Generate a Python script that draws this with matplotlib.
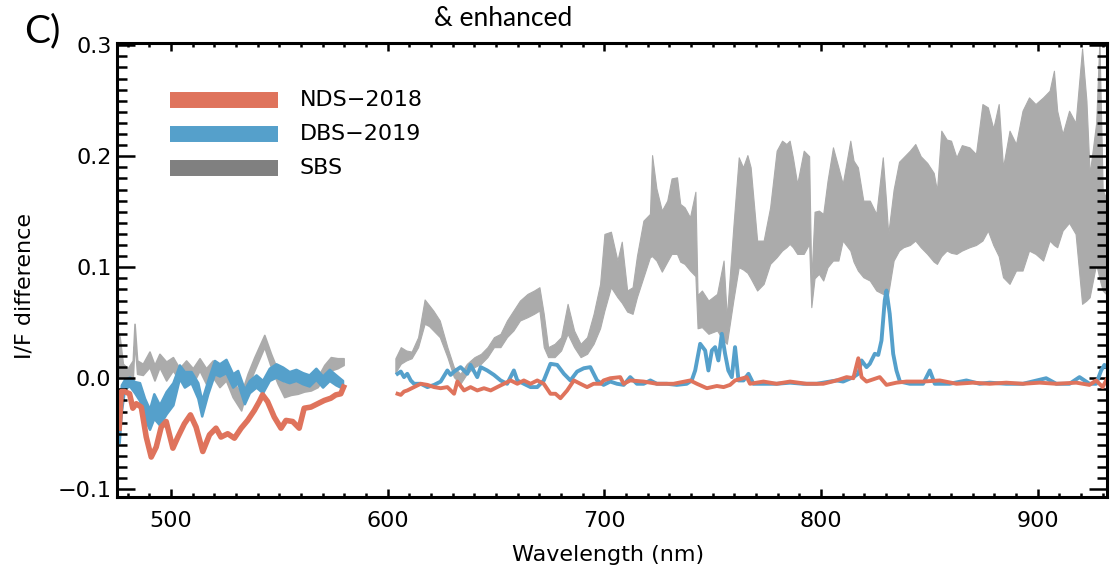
import matplotlib
matplotlib.use("Agg")
import matplotlib.pyplot as plt
from matplotlib.ticker import MultipleLocator, FuncFormatter

# I/F difference spectra, two detector segments with a gap around 590 nm
RED = "#DF735C"
BLUE = "#55A0CB"
GRAY_FILL = "#ABABAB"
GRAY_KEY = "#808080"

legend_labels = ["NDS\u22122018", "DBS\u22122019", "SBS"]

# ---- NDS-2018 ----
red_l_nm = [476, 477, 478.5, 480.8, 482.3, 483.9, 486.2, 488.5, 490.8, 493.1, 495.4,
            497.7, 500.8, 503.1, 506.1, 508.9, 511.5, 514.6, 517.7, 520.7, 523, 526.1,
            529.2, 532.3, 535.3, 538.4, 540.7, 542.2, 544.5, 547.6, 550.7, 553, 556.1,
            559.1, 561.4, 564.5, 567.6, 570.7, 573.7, 576, 578.3, 579.6]
red_l_val = [-0.045, -0.012, -0.012, -0.014, -0.027, -0.023, -0.026, -0.053, -0.071,
             -0.062, -0.044, -0.039, -0.063, -0.053, -0.041, -0.033, -0.044, -0.066,
             -0.051, -0.045, -0.053, -0.050, -0.054, -0.045, -0.038, -0.029, -0.021,
             -0.015, -0.021, -0.035, -0.045, -0.038, -0.039, -0.045, -0.027, -0.026,
             -0.023, -0.020, -0.018, -0.015, -0.014, -0.008]

red_r_nm = [604.5, 606, 607.5, 609, 612.1, 615.2, 618.3, 621.4, 624.4, 627.5, 630.6,
            632.1, 635.2, 638.2, 641.3, 644.4, 647.5, 650.5, 653.6, 656.7, 659.8, 662.8,
            665.9, 669, 672, 675.1, 677.4, 679.7, 682.8, 685.9, 688.9, 692, 695, 698.2,
            699.6, 702.7, 707.3, 708.9, 711.9, 718.1, 724.2, 731.9, 739.6, 742.7, 747.3,
            751.9, 755, 758, 760.3, 765.7, 767.2, 773.4, 779.5, 785.7, 793.3, 801, 807.2,
            811.8, 814.9, 817.2, 818.7, 821, 827.1, 830.2, 834.8, 839.4, 847.1, 854.8,
            862.5, 870.2, 877.8, 885.5, 893.2, 900.9, 908.6, 917.8, 923.9, 927, 930, 932.4]
red_r_val = [-0.014, -0.015, -0.012, -0.011, -0.008, -0.005, -0.006, -0.008, -0.009,
             -0.008, -0.014, -0.003, -0.011, -0.008, -0.011, -0.009, -0.011, -0.008,
             -0.005, -0.002, -0.005, -0.002, -0.005, -0.002, -0.005, -0.014, -0.014,
             -0.018, -0.011, -0.002, -0.005, -0.008, -0.005, -0.005, -0.002, 0.000,
             0.001, -0.005, -0.002, -0.003, -0.005, -0.005, -0.002, -0.005, -0.009,
             -0.007, -0.008, -0.006, -0.002, 0.001, -0.005, -0.003, -0.005, -0.003,
             -0.005, -0.005, -0.002, 0.001, 0.000, 0.018, 0.001, -0.003, 0.001, -0.006,
             -0.004, -0.003, -0.003, -0.002, -0.005, -0.004, -0.005, -0.004, -0.005,
             -0.004, -0.005, -0.004, -0.006, -0.002, -0.008, 0.001]

# ---- DBS-2019 ----
blue_l_nm = [476, 477, 478.5, 480.8, 483.1, 485.4, 487.7, 490, 492, 494.6, 497.7, 500.8,
             503.8, 506.1, 509.2, 512.3, 514.1, 516.9, 520, 522.3, 525.3, 528.4, 530.7,
             533.8, 536.1, 539.2, 542.2, 545.3, 548.4, 551.5, 554.5, 557.6, 560.7, 563.7,
             566.8, 569.9, 573, 576, 579.1]
blue_l_lo = [-0.058, -0.030, -0.009, -0.007, -0.013, -0.020, -0.036, -0.046, -0.036,
             -0.042, -0.032, -0.024, 0.000, -0.008, -0.004, -0.018, -0.034, -0.014,
             0.004, 0.002, 0.005, -0.008, -0.004, -0.023, -0.013, -0.008, -0.013,
             -0.002, 0.001, -0.002, -0.004, -0.002, -0.005, -0.007, -0.001, -0.008,
             -0.002, -0.006, -0.009]
blue_l_hi = [-0.040, -0.006, -0.001, 0.001, -0.003, -0.004, -0.018, -0.028, -0.014,
             -0.024, -0.012, -0.004, 0.012, 0.006, 0.006, -0.004, -0.020, -0.002,
             0.016, 0.013, 0.017, 0.004, 0.007, -0.010, -0.002, 0.003, -0.002,
             0.009, 0.013, 0.010, 0.006, 0.008, 0.005, 0.003, 0.009, 0.002,
             0.008, 0.003, -0.002]

blue_r_nm = [604.5, 606, 607.5, 609, 610.6, 612.1, 615.2, 618.3, 621.4, 624.4, 627.5,
             629, 630.6, 633.6, 636.7, 638.2, 641.3, 642.9, 645.9, 649, 652.1, 655.1,
             658.2, 659.8, 662.8, 665.9, 669, 672, 675.1, 678.2, 681.3, 684.3, 687.4,
             690.5, 693.5, 696.6, 699.6, 702.7, 705.8, 708.9, 711.9, 715, 718.1, 721.2,
             724.2, 728.8, 733.4, 738, 740.3, 741.9, 744.2, 746.5, 748, 749.6, 751.1,
             752.6, 754.2, 755.7, 757.2, 758.8, 760.3, 761.9, 764.2, 766.5, 768.8,
             773.4, 779.5, 785.7, 791.8, 798, 804.1, 807.2, 810.2, 814.9, 817.2, 818.7,
             821, 822.5, 824.8, 826.4, 827.9, 829.4, 830.2, 831.7, 833.3, 834.8, 836.4,
             841, 847.1, 850.2, 852.5, 859.4, 867.1, 873.2, 877.8, 885.5, 893.2, 903.9,
             908.6, 914.7, 919.3, 923.9, 927, 929.3, 930.8, 932.4]
blue_r_val = [0.004, 0.006, 0.001, 0.004, -0.002, -0.005, -0.005, -0.008, -0.006,
              -0.003, 0.007, 0.003, 0.006, 0.010, 0.004, 0.012, 0.001, 0.010, 0.007,
              0.003, -0.002, -0.005, 0.007, -0.002, -0.005, -0.008, -0.008, -0.002,
              0.013, 0.012, 0.004, -0.002, 0.006, 0.009, 0.010, -0.002, -0.006, -0.003,
              -0.005, -0.006, 0.001, -0.005, -0.005, -0.002, -0.005, -0.005, -0.006,
              -0.005, -0.002, 0.007, 0.031, 0.025, 0.007, 0.025, 0.028, 0.016, 0.040,
              0.022, 0.007, 0.001, 0.028, -0.002, -0.002, 0.004, -0.005, -0.005,
              -0.005, -0.004, -0.005, -0.005, -0.003, -0.002, -0.003, 0.001, 0.004,
              0.016, 0.010, 0.013, 0.022, 0.021, 0.034, 0.070, 0.079, 0.058, 0.022,
              0.007, -0.003, -0.005, -0.005, 0.007, -0.005, -0.005, -0.002, -0.005,
              -0.004, -0.005, -0.005, 0.000, -0.005, -0.005, 0.001, -0.005, -0.005,
              0.007, 0.012, 0.009]

# ---- SBS (range band) ----
gray_l_nm = [475.1, 476.2, 477.7, 480, 482.3, 483.1, 484.3, 486.9, 490, 492.3, 494.6,
             497.7, 500.8, 503.8, 506.9, 510, 513.1, 516.1, 519.2, 522.3, 525.3, 528.4,
             532.3, 535.3, 538.4, 543, 546.1, 549.2, 552.2, 555.3, 558.4, 561.4, 564.5,
             567.6, 570.7, 573.7, 576.8, 579.6]
gray_l_hi = [0.043, 0.037, 0.013, 0.009, 0.016, 0.049, 0.016, 0.013, 0.024, 0.012,
             0.022, 0.015, 0.019, 0.009, 0.016, 0.009, 0.018, 0.009, 0.016, 0.006,
             0.010, -0.002, -0.014, 0.004, 0.019, 0.039, 0.022, 0.007, -0.005, -0.002,
             -0.003, -0.002, 0.003, 0.001, 0.012, 0.019, 0.018, 0.018]
gray_l_lo = [0.004, 0.001, 0.001, -0.002, 0.001, 0.034, 0.004, 0.003, 0.010, -0.002,
             0.010, -0.002, 0.007, -0.002, 0.004, -0.005, 0.007, -0.005, 0.001, -0.008,
             -0.002, -0.017, -0.029, -0.008, 0.007, 0.028, 0.010, -0.005, -0.017, -0.015,
             -0.014, -0.012, -0.011, -0.008, 0.001, 0.007, 0.009, 0.012]

gray_r_nm = [603.5, 606, 608.5, 611, 614, 617, 619, 621, 624, 627.5, 630.5, 633.5, 636.5,
             640, 643, 646, 649, 652, 655, 658, 661, 664.5, 667.5, 670, 672, 674, 677,
             680, 683, 686, 689, 692, 695, 698, 700, 703, 706, 708, 710.5, 713, 715, 718,
             721, 722, 724, 726.5, 729, 731, 733.5, 735, 737, 739.5, 742, 743, 745, 748,
             752, 755, 756.5, 759.5, 762, 764, 766, 767.5, 770.5, 773.5, 776.5, 779.5,
             782, 784, 785.5, 787, 789, 792, 794.5, 795.5, 797, 799, 801, 803, 805.5,
             808, 810, 813.5, 815, 817, 819.5, 822.5, 825.5, 828.5, 830, 831, 833.5,
             836, 838, 841, 843.5, 846, 849, 852, 853.5, 855.5, 858, 860, 862.5, 865,
             868.5, 871.5, 874.5, 877, 879.5, 882, 884, 887, 890, 893, 896, 899, 902.5,
             905.5, 907.5, 909, 911.5, 914.5, 917.5, 920.5, 922.5, 924, 927, 928.5,
             930, 932]
gray_r_hi = [0.018, 0.028, 0.025, 0.024, 0.037, 0.071, 0.066, 0.061, 0.052, 0.028,
             0.010, 0.004, 0.013, 0.019, 0.022, 0.028, 0.037, 0.040, 0.052, 0.061,
             0.070, 0.076, 0.079, 0.082, 0.058, 0.028, 0.031, 0.037, 0.067, 0.043,
             0.031, 0.037, 0.058, 0.085, 0.130, 0.132, 0.106, 0.123, 0.079, 0.082,
             0.110, 0.142, 0.148, 0.201, 0.171, 0.151, 0.160, 0.180, 0.181, 0.157,
             0.154, 0.145, 0.168, 0.075, 0.079, 0.070, 0.076, 0.106, 0.055, 0.136,
             0.199, 0.190, 0.201, 0.190, 0.124, 0.124, 0.154, 0.205, 0.214, 0.211,
             0.214, 0.199, 0.175, 0.205, 0.200, 0.088, 0.150, 0.151, 0.148, 0.178,
             0.208, 0.190, 0.175, 0.214, 0.196, 0.190, 0.160, 0.160, 0.148, 0.199,
             0.160, 0.130, 0.170, 0.195, 0.199, 0.205, 0.211, 0.200, 0.194, 0.185,
             0.169, 0.223, 0.215, 0.214, 0.199, 0.210, 0.208, 0.202, 0.247, 0.244,
             0.225, 0.247, 0.190, 0.223, 0.211, 0.241, 0.253, 0.247, 0.253, 0.259,
             0.277, 0.241, 0.220, 0.241, 0.230, 0.297, 0.250, 0.184, 0.230, 0.305,
             0.170, 0.160]
gray_r_lo = [0.005, 0.013, 0.016, 0.018, 0.028, 0.049, 0.047, 0.043, 0.037, 0.019,
             0.001, -0.005, 0.004, 0.010, 0.013, 0.019, 0.028, 0.028, 0.037, 0.043,
             0.052, 0.055, 0.058, 0.061, 0.028, 0.019, 0.019, 0.025, 0.040, 0.028,
             0.019, 0.022, 0.031, 0.045, 0.061, 0.082, 0.073, 0.068, 0.060, 0.058,
             0.073, 0.091, 0.109, 0.110, 0.106, 0.096, 0.105, 0.112, 0.112, 0.105,
             0.103, 0.097, 0.092, 0.045, 0.046, 0.040, 0.043, 0.034, 0.031, 0.070,
             0.100, 0.098, 0.095, 0.090, 0.079, 0.085, 0.103, 0.109, 0.115, 0.118,
             0.121, 0.118, 0.112, 0.112, 0.121, 0.064, 0.090, 0.094, 0.088, 0.100,
             0.106, 0.106, 0.124, 0.115, 0.105, 0.097, 0.091, 0.088, 0.079, 0.076,
             0.075, 0.076, 0.106, 0.115, 0.118, 0.120, 0.124, 0.118, 0.112, 0.105,
             0.103, 0.110, 0.115, 0.113, 0.112, 0.115, 0.118, 0.120, 0.124, 0.133,
             0.120, 0.110, 0.091, 0.085, 0.097, 0.097, 0.115, 0.112, 0.106, 0.124,
             0.120, 0.118, 0.133, 0.140, 0.130, 0.067, 0.070, 0.073, 0.103, 0.090,
             0.079, 0.075]

W, H = 1112, 569
fig = plt.figure(figsize=(W / 100, H / 100), dpi=100)
ax = fig.add_axes([117 / W, 1 - 497 / H, 990 / W, 454 / H])

# gray range first, then blue, then red on top
ax.fill_between(gray_l_nm, gray_l_lo, gray_l_hi, color=GRAY_FILL, lw=1.2, ec=GRAY_FILL)
ax.fill_between(gray_r_nm, gray_r_lo, gray_r_hi, color=GRAY_FILL, lw=0.8, ec=GRAY_FILL)

ax.fill_between(blue_l_nm, blue_l_lo, blue_l_hi, color=BLUE, lw=1.8, ec=BLUE)
ax.plot(blue_r_nm, blue_r_val, color=BLUE, lw=2.8, solid_joinstyle="round")

ax.plot(red_l_nm, red_l_val, color=RED, lw=4.0, solid_joinstyle="round")
ax.plot(red_r_nm, red_r_val, color=RED, lw=2.8, solid_joinstyle="round")

ax.set_xlim(475, 932)
ax.set_ylim(-0.107, 0.302)

ax.xaxis.set_major_locator(MultipleLocator(100))
ax.xaxis.set_minor_locator(MultipleLocator(10))
ax.yaxis.set_major_locator(MultipleLocator(0.1))
ax.yaxis.set_minor_locator(MultipleLocator(0.01))
ax.yaxis.set_major_formatter(FuncFormatter(lambda v, _: f"{v:.1f}".replace("-", "\u2212")))

ax.tick_params(which="both", direction="in", top=True, right=True, width=1.8,
               labelsize=16)
ax.tick_params(axis="x", which="major", length=6, pad=10)
ax.tick_params(axis="x", which="minor", length=3)
ax.tick_params(axis="y", which="major", length=13, pad=4)
ax.tick_params(axis="y", which="minor", length=7)
for sp in ax.spines.values():
    sp.set_linewidth(2.2)

# legend drawn by hand: thick bars with labels
keys = [RED, BLUE, GRAY_KEY]
rows = [0.8744, 0.7996, 0.7247]
for lab, col, yy in zip(legend_labels, keys, rows):
    ax.plot([0.0535, 0.1626], [yy, yy], color=col, lw=11.5, solid_capstyle="butt",
            transform=ax.transAxes)
    ax.text(0.1848, yy, lab, fontsize=16, va="center", ha="left", transform=ax.transAxes)

fig.text(608 / W, 1 - 555 / H, "Wavelength (nm)", fontsize=16, ha="center", va="center")
fig.text(25 / W, 1 - 286 / H, "I/F difference", fontsize=16, rotation=90,
         ha="center", va="center")
fig.text(503 / W, 1 - 19 / H, "& enhanced", fontsize=19, family="Lato",
         ha="center", va="center")
fig.text(42 / W, 1 - 31 / H, "C)", fontsize=28, family="Lato", ha="center", va="center")

fig.savefig("out.png", dpi=100)
